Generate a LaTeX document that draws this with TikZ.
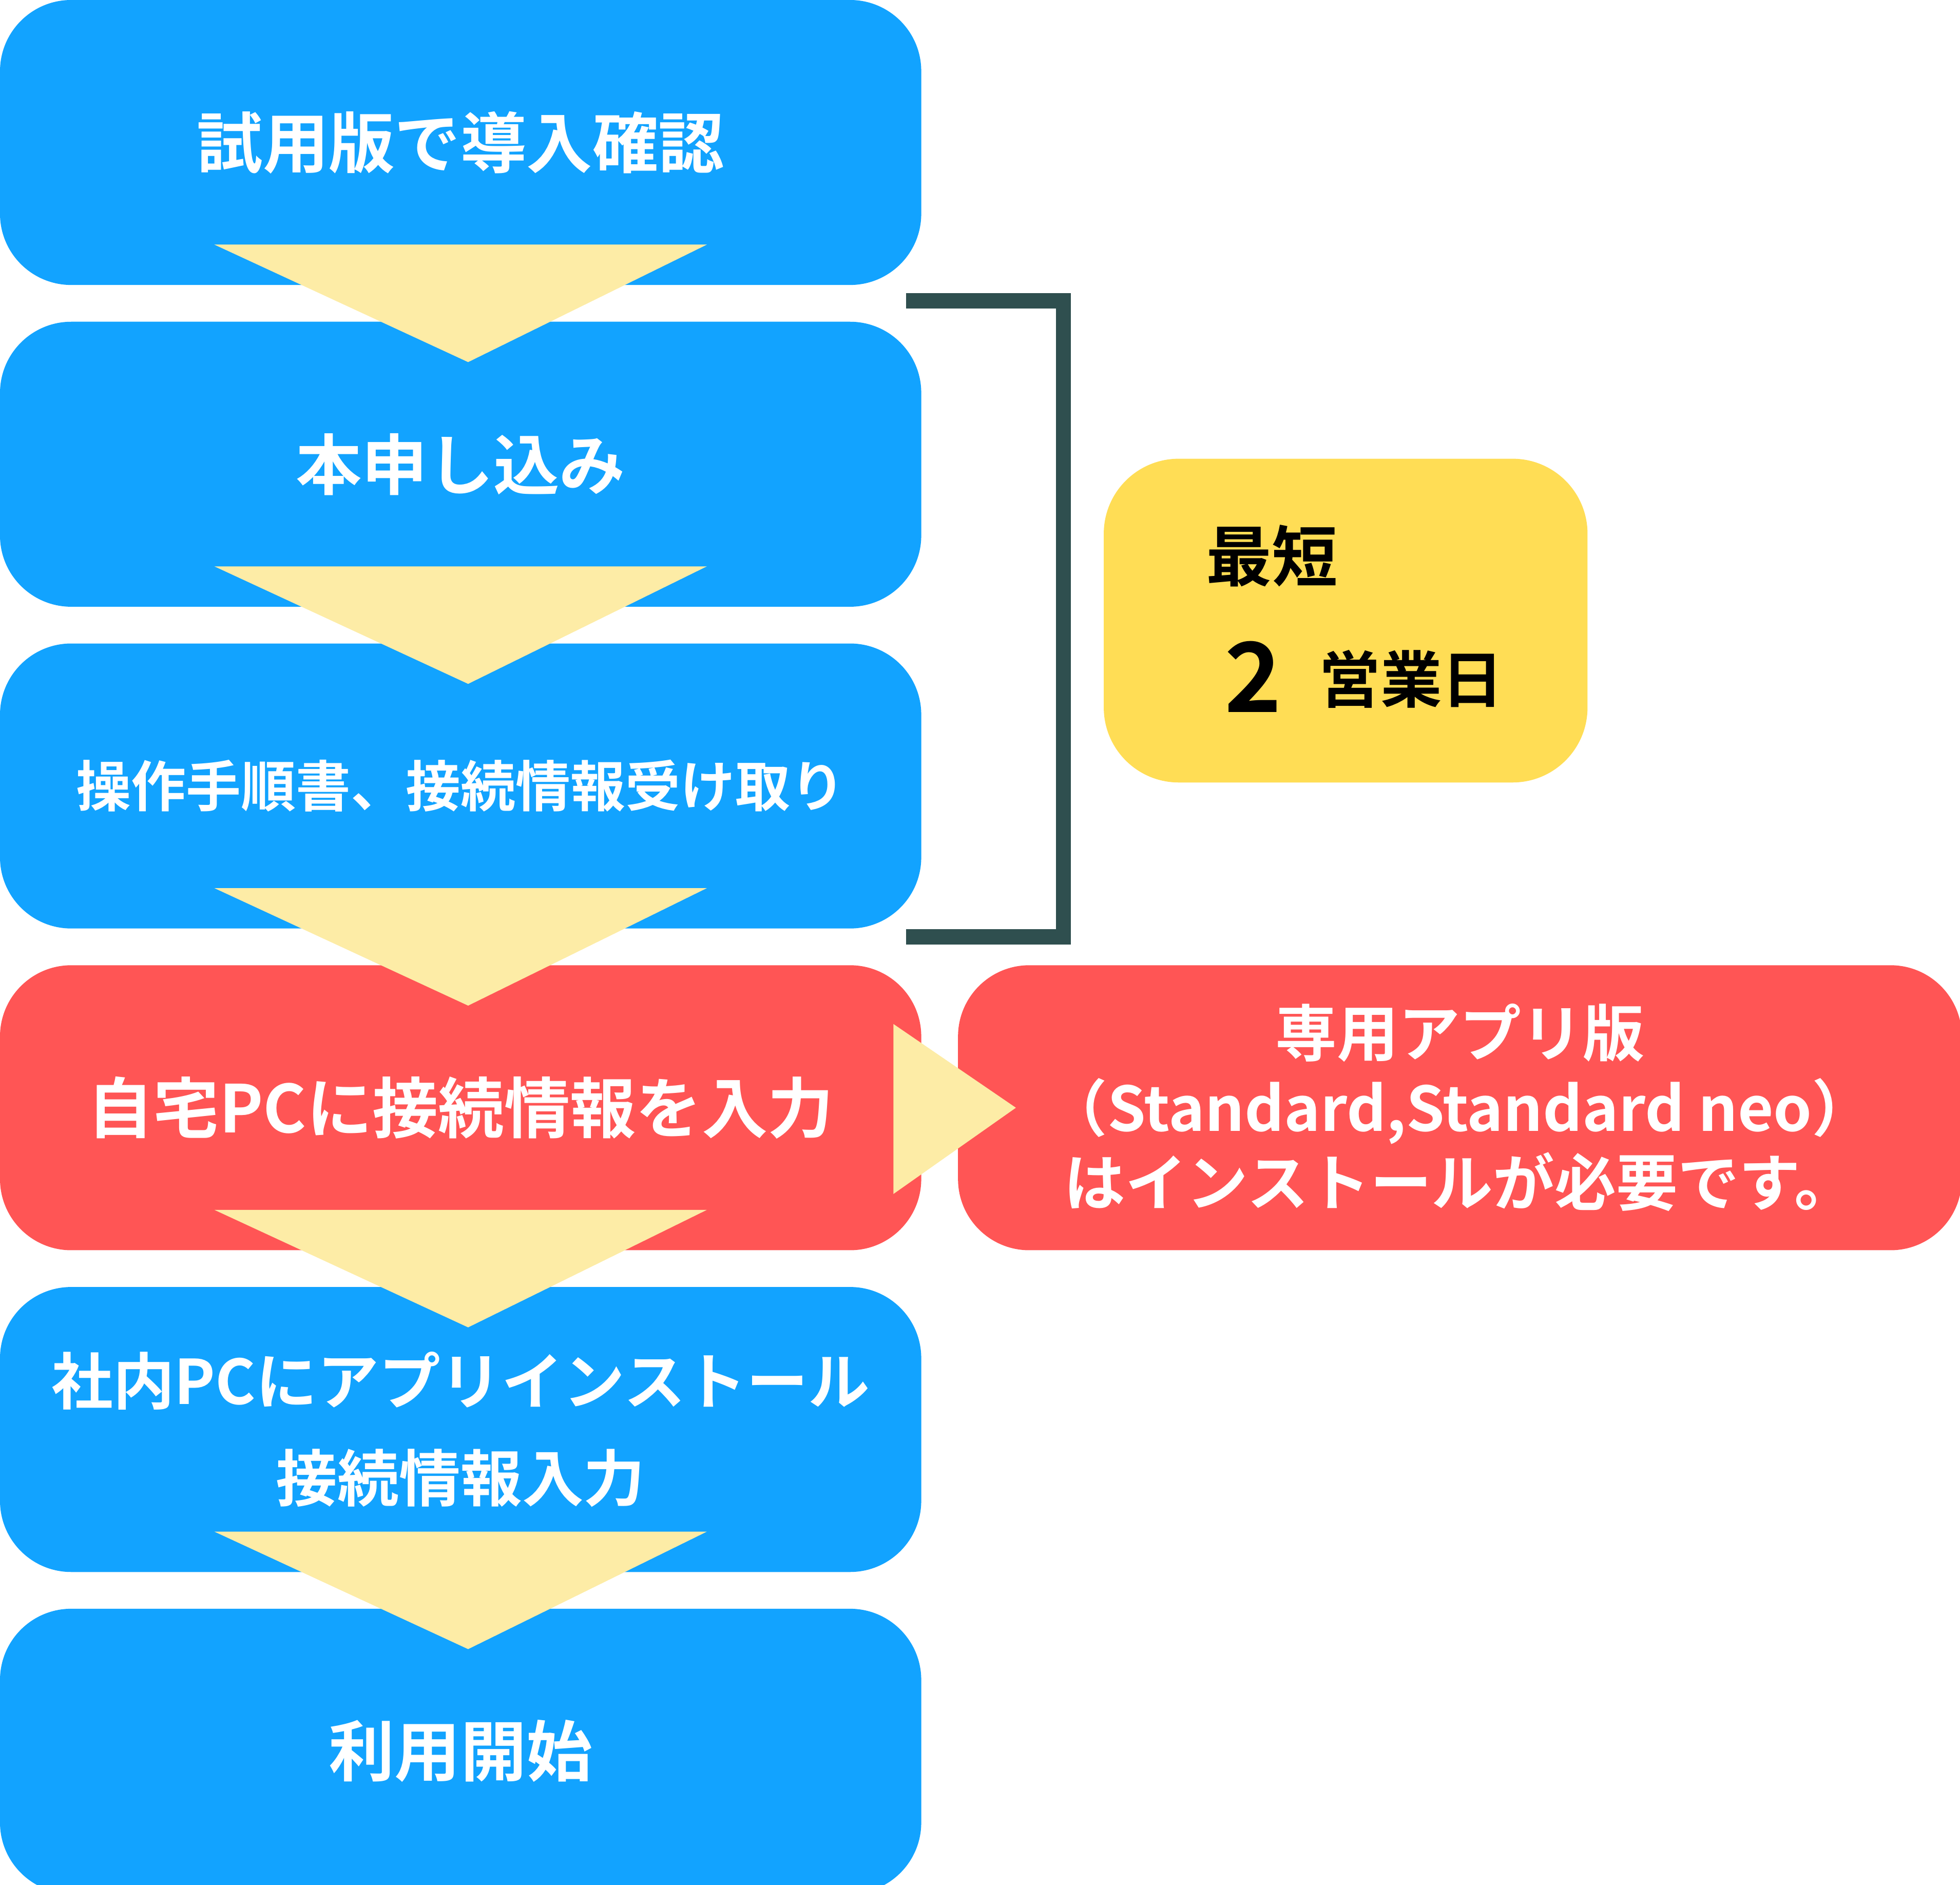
\documentclass[tikz,border=0pt]{standalone}
\usepackage{fontspec}
\setmainfont{Noto Sans CJK JP Bold}
\usetikzlibrary{positioning, calc}
\definecolor{stepblue}{HTML}{12A3FF}
\definecolor{stepred}{HTML}{FF5555}
\definecolor{noteyellow}{HTML}{FFDD55}
\definecolor{arrowyellow}{HTML}{FDECA6}
\definecolor{bracketgray}{HTML}{2F4F4F}
\tikzset{
  stepbox/.style={fill=stepblue, text=white, rounded corners=0.57cm, minimum width=7.37cm, minimum height=2.28cm, align=center, font=\fontsize{15}{19}\selectfont, inner sep=0pt},
  redbox/.style={stepbox, fill=stepred},
  downtri/.style={fill=arrowyellow}
}
\begin{document}
\begin{tikzpicture}[node distance=0.28cm]
  \useasboundingbox (0,0) rectangle (15.68,-15.08);
  \node[stepbox] at (3.685,-1.14) (b1) {試用版で導入確認};
  \node[stepbox, below=of b1] (b2) {本申し込み};
  \node[stepbox, below=of b2, font=\fontsize{12.5}{16}\selectfont] (b3) {操作手順書、接続情報受け取り};
  \node[redbox, below=of b3] (b4) {自宅PCに接続情報を入力};
  \node[stepbox, below=of b4, font=\fontsize{14}{22}\selectfont] (b5) {社内PCにアプリインストール\\接続情報入力};
  \node[stepbox, below=of b5] (b6) {利用開始};
  \node[redbox, minimum width=8.03cm, right=of b4, font=\fontsize{14}{17}\selectfont] (app) {専用アプリ版\\（Standard,Standard neo）\\はインストールが必要です。};
  \node[fill=noteyellow, rounded corners=0.6cm, minimum width=3.87cm, minimum height=2.59cm] at (10.765,-4.965) (note) {};
  \node[anchor=west, font=\fontsize{15}{18}\selectfont] at ($(note.west)+(0.7,0.52)$) (fast) {最短};
  \node[anchor=west, font=\fontsize{22}{26}\selectfont] at ($(note.west)+(0.85,-0.45)$) (two) {2};
  \node[anchor=west, font=\fontsize{14}{18}\selectfont] at ($(two.east)+(0.05,-0.02)$) (days) {営業日};
  \foreach \b in {b1,b2,b3,b4,b5}
    \fill[downtri] ($(\b.south)+(-1.97,0.33)$) -- ($(\b.south)+(1.97,0.33)$) -- ($(\b.south)+(0.06,-0.61)$) -- cycle;
  \fill[downtri] ($(b4.east)+(-0.23,0.67)$) -- ($(b4.east)+(0.75,0)$) -- ($(b4.east)+(-0.23,-0.69)$) -- cycle;
  \coordinate (top) at ($(b2.north east)+(-0.13,0.16)$);
  \coordinate (bot) at ($(b3.south east)+(-0.13,-0.06)$);
  \draw[bracketgray, line width=0.12cm] (top) -- ++(1.26,0) |- (bot);
\end{tikzpicture}
\end{document}
